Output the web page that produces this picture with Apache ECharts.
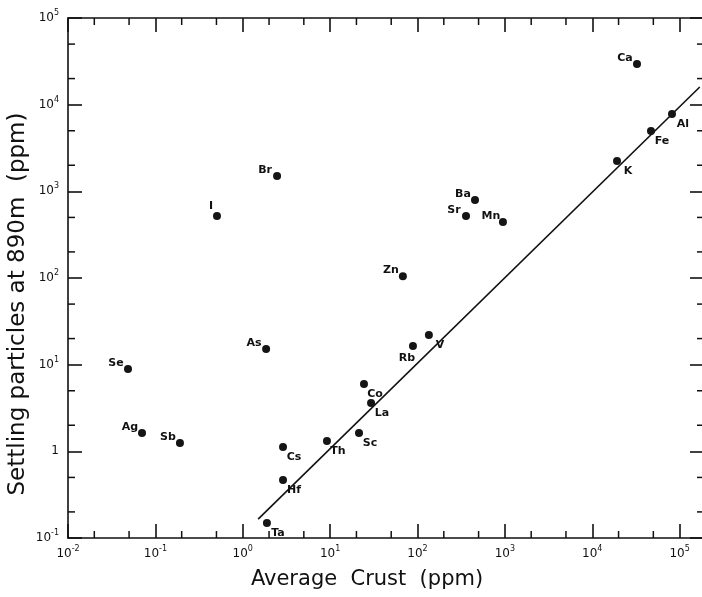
<!DOCTYPE html>
<html>
<head>
<meta charset="utf-8">
<script src="https://cdn.jsdelivr.net/npm/echarts@6/dist/echarts.min.js"></script>
<style>
  html, body { margin: 0; padding: 0; background: #fff; }
  #chart { width: 702px; height: 597px; }
</style>
</head>
<body>
<div id="chart"></div>
<script>
// element names, average crust (ppm) and settling particles at 890m (ppm)
const elements = ['Ca', 'Al', 'Fe', 'K', 'Ba', 'Sr', 'Mn', 'Zn', 'Br', 'I', 'As', 'Se',
  'Ag', 'Sb', 'Cs', 'Hf', 'Ta', 'Th', 'Sc', 'La', 'Co', 'Rb', 'V']
const crust = [32500, 81700, 47000, 19200, 455, 359, 950, 68, 2.47, 0.507, 1.85, 0.0486,
  0.0703, 0.191, 2.89, 2.89, 1.89, 9.2, 21.4, 29.4, 24.4, 88.7, 135]
const settling = [29400, 7800, 4970, 2240, 794, 519, 443, 105, 1500, 519, 15.2, 8.9,
  1.63, 1.25, 1.12, 0.467, 0.149, 1.32, 1.63, 3.61, 5.98, 16.4, 22.0]

// crustal ratio line, end points
const refLine = [[1.5, 0.165], [1.7e5, 1.6e4]]

// axis ranges and the small ticks at 2 and 5 of each decade
const xRange = [0.01, 1.9e5]
const yRange = [0.1, 1e5]
const xMinorTicks = [0.02, 0.05, 0.2, 0.5, 2, 5, 20, 50, 200, 500, 2000, 5000, 20000, 50000]
const yMinorTicks = [0.2, 0.5, 2, 5, 20, 50, 200, 500, 2000, 5000, 20000, 50000]

// where the element name sits next to its dot
const labelSide = {
  Ca: 'ul', Al: 'dr', Fe: 'dr', K: 'dr', Ba: 'ul', Sr: 'ul', Mn: 'ul', Zn: 'ul', Br: 'ul',
  I: 'up', As: 'ul', Se: 'ul', Ag: 'ul', Sb: 'ul', Cs: 'dr', Hf: 'dr', Ta: 'dr', Th: 'dr',
  Sc: 'dr', La: 'dr', Co: 'dr', Rb: 'dl', V: 'dr',
}
const sideOffset = { ul: [-12, -6], dr: [11, 10], dl: [-6, 12], up: [-6, -10] }

const ink = '#111'
const font = 'DejaVu Sans'

const powLabel = (oneAsOne) => (v) => {
  const lg = Math.log10(v)
  const e = Math.round(lg)
  if (Math.abs(lg - e) > 1e-6) return ''
  if (oneAsOne && e === 0) return '{b|1}'
  return '{b|10}{s|' + e + '}'
}
const labelRich = {
  b: { fontSize: 12, fontFamily: font, lineHeight: 18, color: ink },
  s: { fontSize: 8, fontFamily: font, lineHeight: 6, verticalAlign: 'top', color: ink },
}

const axisBase = (extra) => Object.assign({
  type: 'log',
  logBase: 10,
  axisLine: { show: true, onZero: false, lineStyle: { color: ink, width: 1.6 } },
  axisTick: { show: true, inside: true, length: 14, lineStyle: { color: ink, width: 1.6 } },
  splitLine: { show: false },
  minorTick: { show: false },
}, extra)

const minorTickItem = (horizontal) => (params, api) => {
  const v = api.value(horizontal ? 0 : 1)
  if (horizontal) {
    const b = api.coord([v, yRange[0]])
    const t = api.coord([v, yRange[1]])
    return {
      type: 'group',
      children: [
        { type: 'line', shape: { x1: b[0], y1: b[1], x2: b[0], y2: b[1] - 7 }, style: { stroke: ink, lineWidth: 1.5 } },
        { type: 'line', shape: { x1: t[0], y1: t[1], x2: t[0], y2: t[1] + 7 }, style: { stroke: ink, lineWidth: 1.5 } },
      ],
    }
  }
  const l = api.coord([xRange[0], v])
  const r = api.coord([xRange[1], v])
  return {
    type: 'group',
    children: [
      { type: 'line', shape: { x1: l[0], y1: l[1], x2: l[0] + 7, y2: l[1] }, style: { stroke: ink, lineWidth: 1.5 } },
      { type: 'line', shape: { x1: r[0], y1: r[1], x2: r[0] - 7, y2: r[1] }, style: { stroke: ink, lineWidth: 1.5 } },
    ],
  }
}

const chart = echarts.init(document.getElementById('chart'))
chart.setOption({
  animation: false,
  backgroundColor: '#fff',
  grid: { left: 68, right: -2, top: 18, bottom: 59, containLabel: false, outerBoundsMode: 'none' },
  xAxis: [
    axisBase({
      min: xRange[0], max: xRange[1], position: 'bottom',
      axisLabel: { formatter: powLabel(false), rich: labelRich, margin: 7, showMinLabel: true, showMaxLabel: true },
    }),
    axisBase({ min: xRange[0], max: xRange[1], position: 'top', axisLabel: { show: false } }),
  ],
  yAxis: [
    axisBase({
      min: yRange[0], max: yRange[1], position: 'left',
      axisLabel: { formatter: powLabel(true), rich: labelRich, margin: 9, showMinLabel: true, showMaxLabel: true },
    }),
    axisBase({ min: yRange[0], max: yRange[1], position: 'right', axisLabel: { show: false } }),
  ],
  graphic: [
    {
      type: 'text', x: 367, y: 580,
      style: { text: 'Average  Crust  (ppm)', fontSize: 21, fontFamily: font, fill: ink, textAlign: 'center', textVerticalAlign: 'middle' },
    },
    {
      type: 'text', x: 18, y: 304, rotation: Math.PI / 2,
      style: { text: 'Settling particles at 890m  (ppm)', fontSize: 23, fontFamily: font, fill: ink, textAlign: 'center', textVerticalAlign: 'middle' },
    },
  ],
  series: [
    {
      type: 'line',
      data: refLine,
      symbol: 'none',
      silent: true,
      lineStyle: { color: ink, width: 1.6 },
      z: 2,
    },
    {
      type: 'scatter',
      data: elements.map((name, i) => ({
        name,
        value: [crust[i], settling[i]],
        label: { offset: sideOffset[labelSide[name]] },
      })),
      symbol: 'circle',
      symbolSize: 8,
      itemStyle: { color: '#151515', opacity: 1 },
      label: {
        show: true,
        formatter: '{b}',
        position: 'inside',
        fontSize: 11,
        fontWeight: 'bold',
        fontFamily: font,
        color: ink,
      },
      z: 3,
    },
    {
      type: 'custom',
      data: xMinorTicks.map((v) => [v, yRange[0]]),
      renderItem: minorTickItem(true),
      silent: true,
      z: 1,
    },
    {
      type: 'custom',
      data: yMinorTicks.map((v) => [xRange[0], v]),
      renderItem: minorTickItem(false),
      silent: true,
      z: 1,
    },
  ],
})
</script>
</body>
</html>
